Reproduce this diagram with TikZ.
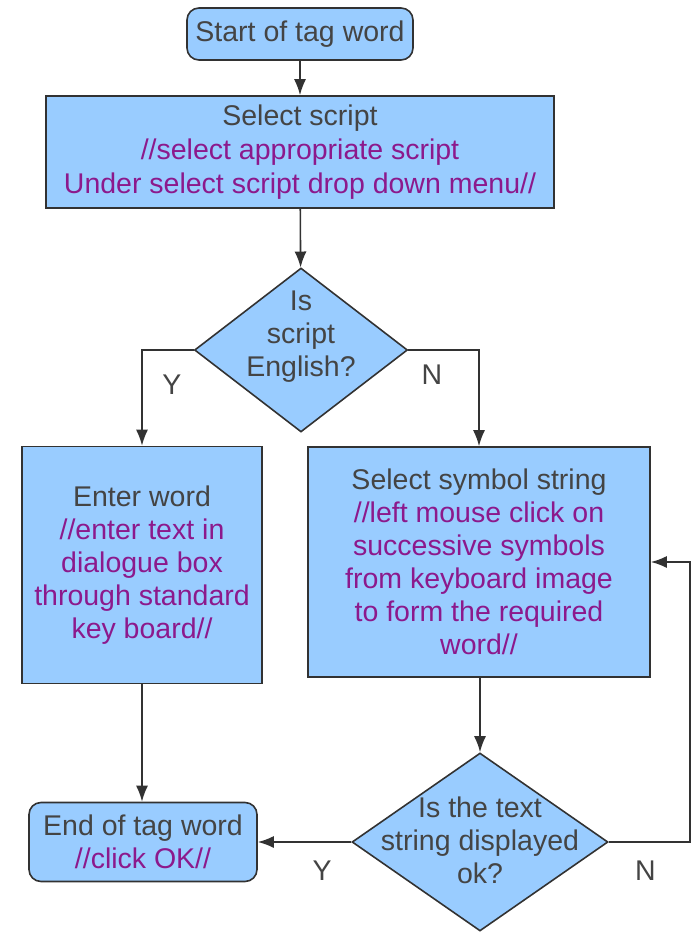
\documentclass[tikz,border=0pt]{standalone}
\usepackage{fontspec}
\setmainfont{Liberation Sans}
\usetikzlibrary{arrows.meta,shapes.geometric}

\definecolor{boxblue}{RGB}{153,204,255}
\definecolor{linegray}{RGB}{50,50,50}
\definecolor{txtgray}{RGB}{68,68,68}
\definecolor{notepurple}{RGB}{140,25,140}
\newcommand{\note}[1]{{\color{notepurple}#1}}

\begin{document}
\begin{tikzpicture}[x=1pt, y=-1pt,
        font=\fontsize{28.5}{33}\selectfont, text=txtgray,
        box/.style={draw=linegray, line width=1.6pt, fill=boxblue, align=center, inner sep=0pt},
        roundbox/.style={box, rounded corners=12pt},
        decision/.style={box, diamond, aspect=1.3},
        arr/.style={draw=linegray, line width=1.6pt, -{Latex[length=16pt,width=12pt]}}]

        \useasboundingbox (0,0) rectangle (700,939);

        % boxes
        \node[roundbox, minimum width=226pt, minimum height=52pt] (start) at (300,34) {Start of tag word};
        \node[box, minimum width=508pt, minimum height=112pt, font=\fontsize{28.5}{34}\selectfont] (select) at (300,152)
            {Select script\\ \note{//select appropriate script}\\ \note{Under select script drop down menu//}};
        \node[decision, minimum width=213pt, minimum height=164pt,
            label={[align=center, text=txtgray, yshift=13pt]center:Is\\script\\English?}] (english) at (301,350) {};
        \node[box, minimum width=240pt, minimum height=237pt] (enter) at (142,565)
            {Enter word\\ \note{//enter text in}\\ \note{dialogue box}\\ \note{through standard}\\ \note{key board//}};
        \node[box, minimum width=342pt, minimum height=230pt] (symbol) at (479,562)
            {Select symbol string\\ \note{//left mouse click on}\\ \note{successive symbols}\\ \note{from keyboard image}\\ \note{to form the required}\\ \note{word//}};
        \node[decision, minimum width=256pt, minimum height=178pt,
            label={[align=center, text=txtgray, yshift=2pt]center:Is the text\\string displayed\\ok?}] (check) at (480,842) {};
        \node[roundbox, minimum width=228pt, minimum height=79pt] (end) at (143,842)
            {End of tag word\\ \note{//click OK//}};
        \coordinate (back) at (690,842);

        % connectors
        \draw[arr] (start) -- (select);
        \draw[arr] (select) -- (english);
        \draw[arr] (english) -| node[pos=0.68, xshift=30pt] (yes1) {Y} (enter);
        \draw[arr] (english) -| node[pos=0.63, xshift=-47pt] (no1) {N} (symbol);
        \draw[arr] (enter.south) -- (enter.south |- end.north);
        \draw[arr] (symbol.south -| check.north) -- (check.north);
        \draw[arr] (check) -- node[pos=0.31, yshift=-29pt] (yes2) {Y} (end);
        \draw[arr] (check.east) -- node[pos=0.45, yshift=-29pt] (no2) {N} (back) |- (symbol);
    \end{tikzpicture}
\end{document}
